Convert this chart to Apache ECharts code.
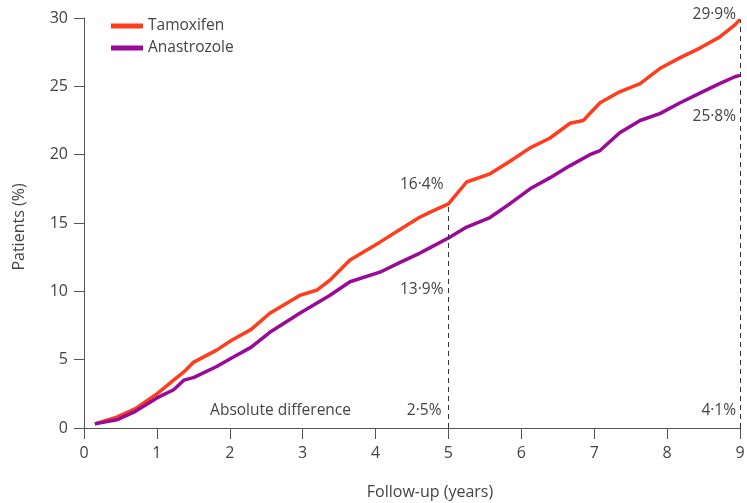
<!DOCTYPE html>
<html>
<head>
<meta charset="utf-8">
<script src="https://cdn.jsdelivr.net/npm/echarts@6/dist/echarts.min.js"></script>
<style>
html,body{margin:0;padding:0;background:#fff;}
#main{width:747px;height:503px;}
</style>
</head>
<body>
<div id="main"></div>
<script>
// curves: [years, %]
var tamoxifen = [[0.15,0.3],[0.45,0.8],[0.7,1.4],[1.0,2.5],[1.23,3.5],[1.37,4.1],[1.5,4.8],[1.82,5.7],[2.02,6.4],[2.29,7.2],[2.55,8.4],[2.96,9.7],[3.2,10.1],[3.37,10.8],[3.65,12.3],[4.06,13.6],[4.33,14.5],[4.6,15.4],[4.75,15.8],[5.0,16.4],[5.25,18.0],[5.57,18.6],[5.84,19.5],[6.12,20.5],[6.39,21.2],[6.67,22.3],[6.85,22.5],[7.08,23.8],[7.35,24.6],[7.63,25.2],[7.9,26.3],[8.18,27.1],[8.45,27.8],[8.72,28.6],[8.93,29.5],[9.0,29.9]];
var anastrozole = [[0.15,0.3],[0.45,0.6],[0.7,1.2],[1.0,2.2],[1.23,2.8],[1.37,3.5],[1.51,3.7],[1.82,4.5],[2.02,5.1],[2.29,5.9],[2.55,7.0],[2.96,8.4],[3.37,9.7],[3.65,10.7],[4.06,11.4],[4.33,12.1],[4.61,12.8],[4.75,13.2],[5.0,13.9],[5.25,14.7],[5.57,15.4],[5.84,16.4],[6.12,17.5],[6.39,18.3],[6.67,19.2],[6.94,20.0],[7.08,20.3],[7.35,21.6],[7.63,22.5],[7.9,23.0],[8.18,23.8],[8.45,24.5],[8.72,25.2],[8.93,25.7],[9.0,25.8]];
var names = ['Tamoxifen','Anastrozole'];
var colors = ['#ff3c1c','#990a99'];
var cutYears = [5, 9];
var cutTam = ['16·4%','29·9%'];
var cutAna = ['13·9%','25·8%'];
var diffs = ['2·5%','4·1%'];

var font = '"Open Sans", sans-serif';
var axisCol = '#555';
var txtCol = '#444';

var myChart = echarts.init(document.getElementById('main'));

var option = {
    animation:false,
    textStyle:{fontFamily:font},
    grid:{left:84,right:7,top:18,bottom:75,containLabel:false,outerBoundsMode:'none'},
    legend:{
        orient:'vertical', left:106, top:13, itemGap:6,
        itemWidth:32, itemHeight:5, icon:'rect',
        textStyle:{fontFamily:font,fontSize:15.5,color:txtCol},
        data:names
    },
    xAxis:{
        type:'value', min:0, max:9, interval:1,
        name:'Follow-up (years)', nameLocation:'middle', nameGap:56,
        nameTextStyle:{fontFamily:font,fontSize:16,color:txtCol,padding:[0,0,0,36]},
        axisLine:{lineStyle:{color:axisCol,width:1}},
        axisTick:{length:11,lineStyle:{color:axisCol}},
        axisLabel:{fontFamily:font,fontSize:16,color:txtCol,margin:17},
        splitLine:{show:false}
    },
    yAxis:{
        type:'value', min:0, max:30, interval:5,
        name:'Patients (%)', nameLocation:'middle', nameGap:57, nameRotate:90,
        nameTextStyle:{fontFamily:font,fontSize:16,color:txtCol,padding:[0,8,0,0]},
        axisLine:{show:true,lineStyle:{color:axisCol,width:1}},
        axisTick:{show:true,length:10,lineStyle:{color:axisCol}},
        axisLabel:{fontFamily:font,fontSize:16,color:txtCol,margin:16},
        splitLine:{show:false}
    },
    series:[
        {
            name:names[0], type:'line', data:tamoxifen,
            showSymbol:false, symbol:'none',
            lineStyle:{color:colors[0],width:3.5},
            itemStyle:{color:colors[0]},
            markLine:{
                silent:true, symbol:'none',
                label:{show:false},
                lineStyle:{color:'#333',type:[5,4],width:1},
                data:[
                    [{coord:[cutYears[0],0]},{coord:[cutYears[0],16.4]}],
                    [{coord:[cutYears[1],0]},{coord:[cutYears[1],29.9]}]
                ]
            }
        },
        {
            name:names[1], type:'line', data:anastrozole,
            showSymbol:false, symbol:'none',
            lineStyle:{color:colors[1],width:3.5},
            itemStyle:{color:colors[1]}
        }
    ]
};
myChart.setOption(option);

// text labels placed from data coords
function px(x,y){ return myChart.convertToPixel({gridIndex:0},[x,y]); }
function txt(p,dx,dy,s,align){
    return {type:'text', x:p[0]+dx, y:p[1]+dy,
        style:{text:s, fill:txtCol, font:'15.5px '+font, align:align||'right', verticalAlign:'middle'}};
}
var g = [];
var p5 = px(cutYears[0],16.4), p5b = px(cutYears[0],13.9), p9 = px(cutYears[1],29.9), p9b = px(cutYears[1],25.8);
g.push(txt(p5,-5,-19,cutTam[0]));
g.push(txt(p5b,-5,52,cutAna[0]));
g.push(txt(p9,-4,-5,cutTam[1]));
g.push(txt(p9b,-4,41,cutAna[1]));
var b5 = px(cutYears[0],0), b9 = px(cutYears[1],0);
g.push(txt(b5,-7,-17,diffs[0]));
g.push(txt(b9,-4,-17,diffs[1]));
g.push(txt(px(1.73,0),0,-17,'Absolute difference','left'));
myChart.setOption({graphic:g});
</script>
</body>
</html>
